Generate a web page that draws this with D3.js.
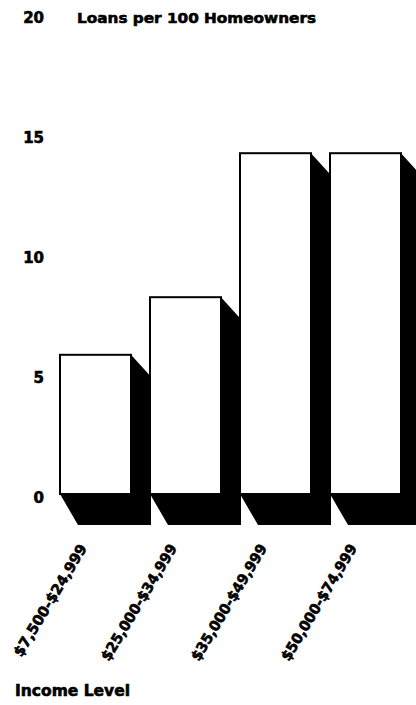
<!DOCTYPE html>
<html>
<head>
<meta charset="utf-8">
<script src="https://cdn.jsdelivr.net/npm/d3@7"></script>
<style>
  html, body { margin: 0; padding: 0; background: #fff; }
  svg { display: block; }
  text { font-family: "DejaVu Sans", "Liberation Sans", Arial, sans-serif; font-weight: bold; fill: #000; stroke: #000; stroke-width: 0.6px; }
</style>
</head>
<body>
<script>
const categories = ["$7,500-$24,999", "$25,000-$34,999", "$35,000-$49,999", "$50,000-$74,999"];
const values = [5.8, 8.2, 14.2, 14.2];
const yTicks = [0, 5, 10, 15, 20];
const title = "Loans per 100 Homeowners";
const xTitle = "Income Level";

const W = 416, H = 705;
const svg = d3.select("body").append("svg").attr("width", W).attr("height", H);
svg.append("rect").attr("width", W).attr("height", H).attr("fill", "#fff");

const y = d3.scaleLinear().domain([0, 20]).range([494, 14]);
const x = d3.scaleBand().domain(categories).range([60, 401]).paddingInner(19 / 90).paddingOuter(0);

// y axis labels
const yAxis = d3.axisLeft(y).tickValues(yTicks).tickSize(0).tickPadding(0);
const gy = svg.append("g").attr("transform", "translate(44,0)").call(yAxis);
gy.select(".domain").remove();
gy.selectAll("text")
  .attr("dy", "0.55em")
  .style("font-family", "'DejaVu Sans', sans-serif")
  .style("font-weight", "bold")
  .style("font-size", "15px")
  .attr("fill", "#000");

// title
svg.append("text").attr("x", 77).attr("y", y(20) + 3).attr("dy", "0.38em")
  .attr("font-size", 14.5).attr("textLength", 239).attr("lengthAdjust", "spacingAndGlyphs")
  .text(title);

// shadows
const bw = x.bandwidth();
const data = categories.map((c, i) => ({ c, v: values[i] }));
svg.append("g").selectAll("path").data(data).join("path")
  .attr("fill", "#000")
  .attr("d", d => {
    const x0 = x(d.c), x1 = x0 + bw, yT = y(d.v), yB = y(0);
    return `M${x0},${yB} L${x0 + 18},${yB + 31} L${x1 + 20},${yB + 31} L${x1 + 20},${yT + 22} L${x1},${yT} Z`;
  });

// faces
svg.append("g").selectAll("rect").data(data).join("rect")
  .attr("x", d => x(d.c))
  .attr("y", d => y(d.v))
  .attr("width", bw)
  .attr("height", d => y(0) - y(d.v))
  .attr("fill", "#fff")
  .attr("stroke", "#000")
  .attr("stroke-width", 2);

// x labels
svg.append("g").selectAll("text").data(categories).join("text")
  .attr("transform", d => `translate(${x(d) + bw / 2 - 8},548) rotate(-59)`)
  .attr("text-anchor", "end")
  .attr("font-size", 14.5)
  .attr("textLength", (d, i) => i === 0 ? 128 : 133)
  .attr("lengthAdjust", "spacingAndGlyphs")
  .text(d => d);

// x title
svg.append("text").attr("x", 15).attr("y", 696)
  .attr("font-size", 15).attr("textLength", 115).attr("lengthAdjust", "spacingAndGlyphs")
  .text(xTitle);
</script>
</body>
</html>
